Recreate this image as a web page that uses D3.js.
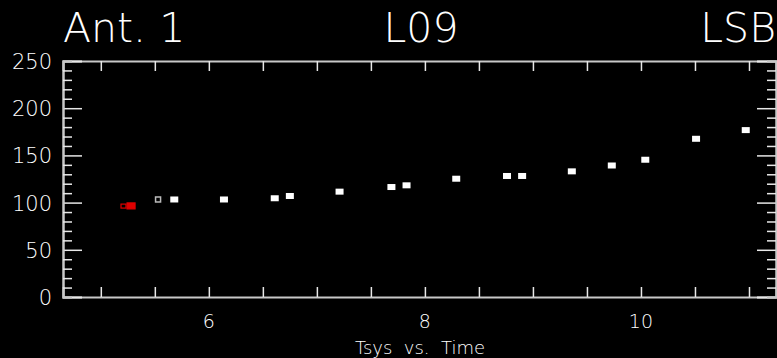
<!DOCTYPE html>
<html><head><meta charset="utf-8">
<script src="https://cdn.jsdelivr.net/npm/d3@7"></script>
<style>
html,body{margin:0;padding:0;background:#000;overflow:hidden}
svg{display:block}
text{font-family:"DejaVu Sans",sans-serif;fill:#fff;font-weight:200}
</style></head><body>
<svg id="c" width="777" height="358"></svg>
<script>
// ---- data ----
const titleLeft = "Ant. 1", titleMid = "L09", titleRight = "LSB";
const xTitle = "Tsys  vs.  Time";
const xDomain = [4.65, 11.25];
const yDomain = [0, 250];
const xLabelTicks = [6, 8, 10];
const yLabelTicks = [0, 50, 100, 150, 200, 250];
// white filled points
const timeWhite = [5.68, 6.14, 6.61, 6.75, 7.21, 7.69, 7.83, 8.29, 8.76, 8.90, 9.36, 9.73, 10.04, 10.51, 10.97];
const tsysWhite = [103.3, 103.3, 104.6, 107.0, 111.6, 116.5, 118.3, 125.3, 128.2, 128.2, 133.1, 139.3, 145.4, 167.6, 176.8];
// hollow grey point
const timeHollow = [5.53];
const tsysHollow = [103.3];
// red points (first hollow, second filled)
const timeRed = [5.21, 5.28];
const tsysRed = [96.3, 96.5];

// ---- drawing ----
const svg = d3.select("#c");
const L = 63, R = 776, T = 61, B = 297;
const x = d3.scaleLinear().domain(xDomain).range([L, R]);
const y = d3.scaleLinear().domain(yDomain).range([B, T]);

// titles
svg.append("text").attr("x", 63).attr("y", 42).attr("font-size", 41).text(titleLeft);
svg.append("text").attr("x", 421).attr("y", 42).attr("font-size", 41).attr("text-anchor", "middle").text(titleMid);
svg.append("text").attr("x", 776).attr("y", 42).attr("font-size", 41).attr("text-anchor", "end").text(titleRight);

const axisColor = "#c8c8c8";
const xMinor = d3.range(5, 11.01, 0.5);
const yMinor = d3.range(0, 250.1, 10).filter(v => v % 50 !== 0);

// bottom axis
svg.append("g").attr("transform", `translate(0,${B})`)
  .call(d3.axisBottom(x).tickValues(xMinor).tickSize(-10).tickFormat(""));
// top axis
svg.append("g").attr("transform", `translate(0,${T})`)
  .call(d3.axisTop(x).tickValues(xMinor).tickSize(-10).tickFormat(""));
// left axis major/minor
svg.append("g").attr("transform", `translate(${L},0)`)
  .call(d3.axisLeft(y).tickValues(yLabelTicks).tickSize(-19).tickFormat(""));
svg.append("g").attr("transform", `translate(${L},0)`)
  .call(d3.axisLeft(y).tickValues(yMinor).tickSize(-9).tickFormat(""));
// right axis
svg.append("g").attr("transform", `translate(${R},0)`)
  .call(d3.axisRight(y).tickValues(yLabelTicks).tickSize(-19).tickFormat(""));
svg.append("g").attr("transform", `translate(${R},0)`)
  .call(d3.axisRight(y).tickValues(yMinor).tickSize(-9).tickFormat(""));

svg.selectAll(".domain").attr("stroke", axisColor).attr("stroke-width", 2);
svg.selectAll(".tick line").attr("stroke", "#e8e8e8").attr("stroke-width", 1.5);

// tick labels
svg.append("g").selectAll("text").data(xLabelTicks).join("text")
  .attr("x", d => x(d)).attr("y", 328).attr("font-size", 19).attr("text-anchor", "middle").text(d => d);
svg.append("g").selectAll("text").data(yLabelTicks).join("text")
  .attr("x", 52).attr("y", d => y(d) + 8).attr("font-size", 21).attr("text-anchor", "end").text(d => d);

svg.append("text").attr("x", 420).attr("y", 354).attr("font-size", 18)
  .attr("text-anchor", "middle").style("white-space", "pre").text(xTitle);

// points
const white = timeWhite.map((t, i) => ({t, v: tsysWhite[i]}));
svg.append("g").selectAll("rect").data(white).join("rect")
  .attr("x", d => x(d.t) - 4).attr("y", d => y(d.v) - 3)
  .attr("width", 8).attr("height", 6).attr("fill", "#fff");

const hollow = timeHollow.map((t, i) => ({t, v: tsysHollow[i]}));
svg.append("g").selectAll("rect").data(hollow).join("rect")
  .attr("x", d => x(d.t) - 2.5).attr("y", d => y(d.v) - 2.5)
  .attr("width", 5).attr("height", 5).attr("fill", "none").attr("stroke", "#bbb").attr("stroke-width", 1.5);

const red = timeRed.map((t, i) => ({t, v: tsysRed[i], i}));
svg.append("g").selectAll("rect").data(red).join("rect")
  .attr("x", d => x(d.t) - (d.i === 0 ? 2.5 : 4)).attr("y", d => y(d.v) - (d.i === 0 ? 2 : 3))
  .attr("width", d => d.i === 0 ? 5 : 8).attr("height", d => d.i === 0 ? 4 : 6)
  .attr("fill", d => d.i === 0 ? "none" : "#e00000")
  .attr("stroke", "#e00000").attr("stroke-width", 1.2);
</script>
</body></html>
